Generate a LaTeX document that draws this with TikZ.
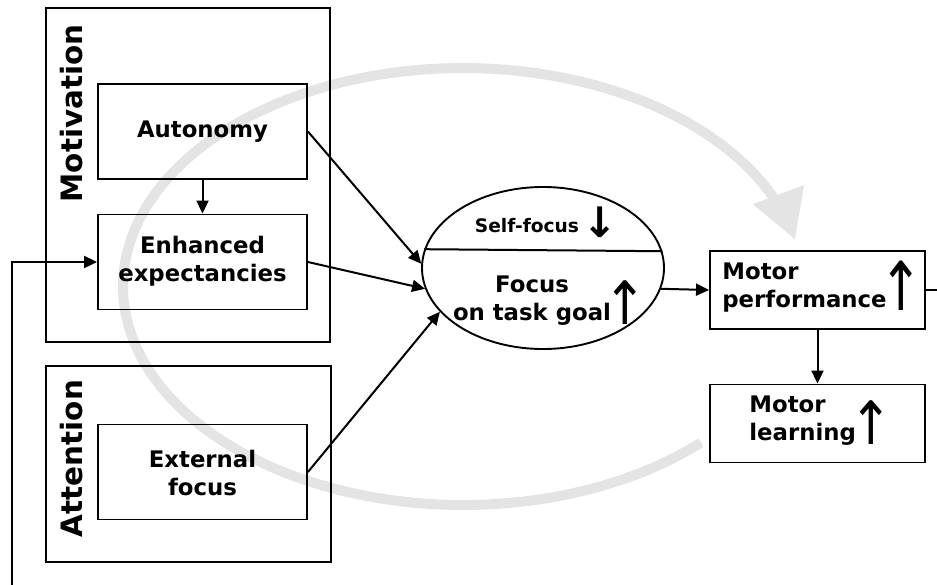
\documentclass[tikz,border=0pt]{standalone}
\usepackage{fontspec}
\setmainfont{DejaVu Sans}
\usetikzlibrary{shapes.geometric,arrows.meta}
\definecolor{arcgray}{RGB}{228,228,228}
\newcommand{\tallup}[1]{\scalebox{1}[#1]{↑}}
\begin{document}
\begin{tikzpicture}[x=0.5pt,y=-0.5pt,
  frame/.style={draw, line width=0.95pt, inner sep=0pt},
  box/.style={frame, minimum width=104.5pt, minimum height=47.5pt},
  mbox/.style={frame, minimum width=107.5pt, minimum height=39pt},
  lbl/.style={font=\fontsize{11.4}{14}\selectfont\bfseries, align=center, inner sep=0pt},
  lbll/.style={font=\fontsize{11.4}{14}\selectfont\bfseries, align=left, inner sep=0pt, anchor=west},
  side/.style={font=\fontsize{14.7}{16}\selectfont\bfseries, rotate=90, inner sep=0pt},
  uparr/.style={font=\fontsize{26}{26}\selectfont, inner sep=0pt},
  arr/.style={-{Triangle[length=6.5pt,width=6pt]}, line width=1pt},
  con/.style={line width=1pt}
]
\useasboundingbox (0,0) rectangle (937,584);
% grey cycle arc
\draw[line width=5pt, color=arcgray, -{Triangle[length=24pt,width=26pt]}]
  plot[domain=45.6:347.6, samples=150] ({463+340*cos(\x)},{286.5+218.5*sin(\x)});

% groups
\node[frame, minimum width=142pt, minimum height=167pt] (motg) at (188,175) {};
\node[frame, minimum width=142.5pt, minimum height=98pt] (attg) at (188.5,464) {};
\node[side] (motl) at (72,113.5) {Motivation};
\node[side] (attl) at (72,458.5) {Attention};

% boxes
\node[box] (aut) at (202.5,131.5) {};
\node[lbl] (autt) at (202.5,132) {Autonomy};
\node[box] (enh) at (202.5,262) {};
\node[lbl] (enht) at (202.5,261) {Enhanced\\expectancies};
\node[box] (ext) at (202.5,472) {};
\node[lbl] (extt) at (202.5,473) {External\\focus};

% ellipse
\node[draw, ellipse, line width=0.95pt, minimum width=121pt, minimum height=81pt, inner sep=0pt] (ell) at (543,268) {};
\draw[con] (ell.171.3) -- (ell.8.7);
\node[font=\fontsize{9.3}{11}\selectfont\bfseries, inner sep=0pt] (sf) at (527,226) {Self-focus};
\node[font=\fontsize{21}{21}\selectfont\bfseries, inner sep=0pt] (sfa) at (600,222.5) {↓};
\node[lbl] (ft) at (532,300.5) {Focus\\on task goal};
\node[uparr] (fta) at (625,303) {\tallup{1.15}};

% motor boxes
\node[mbox] (mp) at (817.5,290) {};
\node[lbll] (mpt) at (722,288) {Motor\\performance};
\node[uparr] (mpa) at (901,285.5) {\tallup{1.3}};
\node[mbox] (ml) at (817.5,423.5) {};
\node[lbll] (mlt) at (749,421) {Motor\\learning};
\node[uparr] (mla) at (871,423) {\tallup{1.15}};

% connectors
\draw[arr] (aut.south) -- (enh.north);
\draw[arr] (aut.east) -- (ell.178);
\draw[arr] (enh.east) -- (ell.190);
\draw[arr] (ext.east) -- (ell.203);
\draw[arr] (ell.-10.6) -- (mp.west);
\draw[arr] (mp.south) -- (ml.north);

% feedback loop (runs outside the frame)
\coordinate (fb) at (12,640);
\begin{scope}
\clip (0,0) rectangle (937,584);
\draw[arr] (mp.east) -- ++(40,0) |- (fb) |- (enh.west);
\end{scope}
\end{tikzpicture}
\end{document}
